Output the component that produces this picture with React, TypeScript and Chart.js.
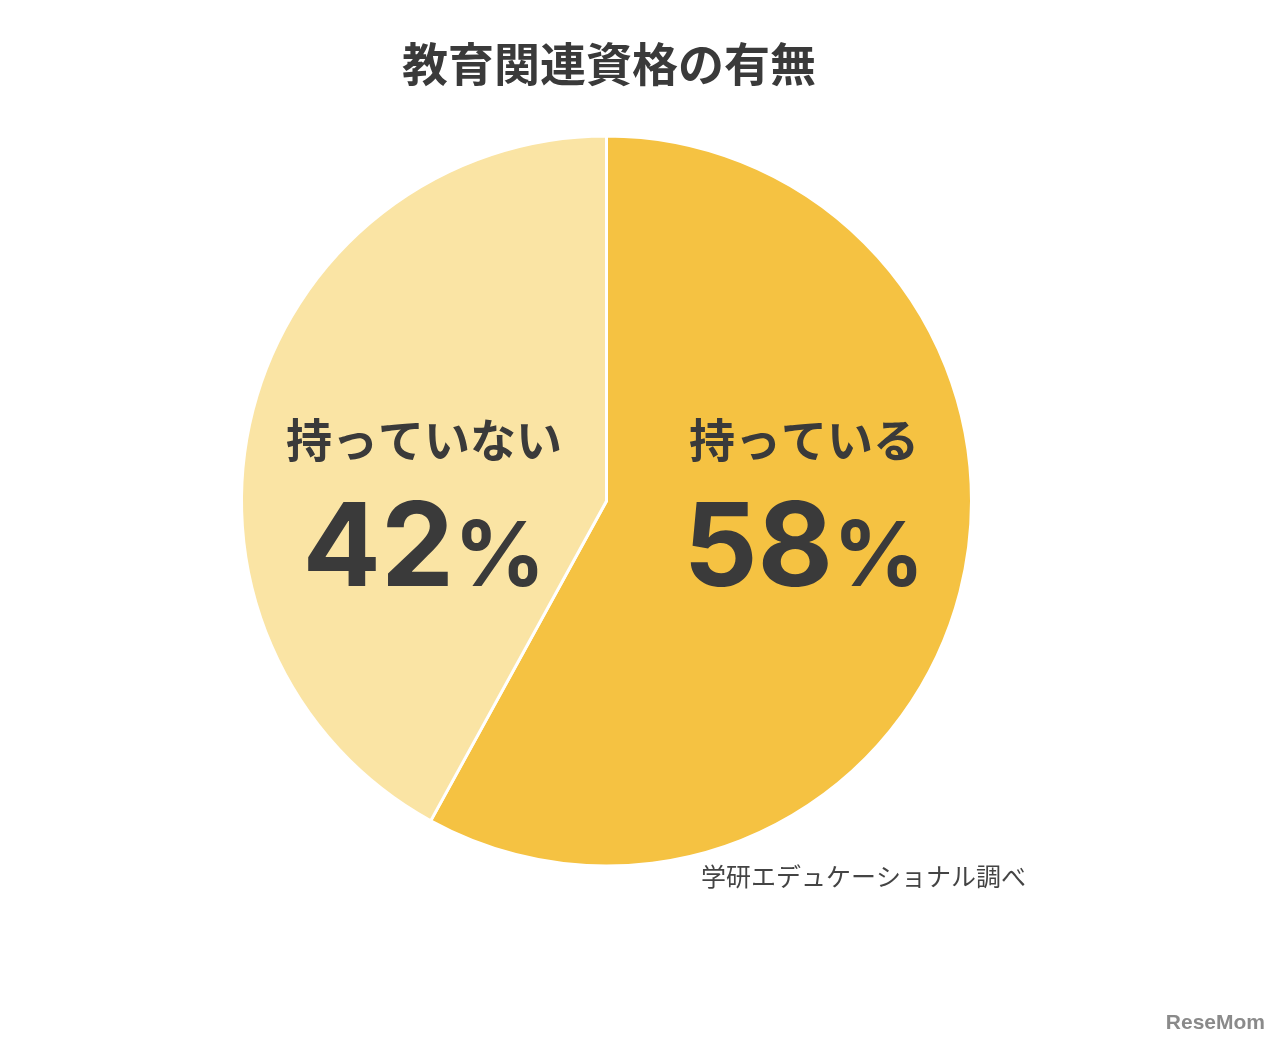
import React, { useEffect, useRef } from "react";
import { Chart, registerables } from "chart.js";

Chart.register(...registerables);

const title = "教育関連資格の有無";
const categories = ["持っている", "持っていない"];
const values = [58, 42];
const colors = ["#F5C242", "#FAE4A4"];
const source = "学研エデュケーショナル調べ";
const watermark = "ReseMom";

const labelPositions = [
  { x: 804, yLabel: 440, yBase: 586 },
  { x: 424, yLabel: 440, yBase: 586 },
];

const NUM_FONT = "bold 116px Inter, 'Liberation Sans', sans-serif";
const PCT_FONT = "bold 90px Inter, 'Liberation Sans', sans-serif";

const textPlugin = {
  id: "textPlugin",
  afterDraw(chart: any) {
    const ctx = chart.ctx as CanvasRenderingContext2D;
    ctx.save();
    ctx.fillStyle = "#3a3a3a";
    ctx.textAlign = "center";
    ctx.textBaseline = "middle";
    ctx.font = "bold 46px 'Noto Sans CJK JP', sans-serif";
    ctx.fillText(title, 609, 64);

    categories.forEach((cat, i) => {
      const p = labelPositions[i];
      ctx.font = "bold 46px 'Noto Sans CJK JP', sans-serif";
      ctx.textAlign = "center";
      ctx.textBaseline = "middle";
      ctx.fillText(cat, p.x, p.yLabel);
      const num = String(values[i]);
      ctx.font = NUM_FONT;
      const wNum = ctx.measureText(num).width;
      ctx.font = PCT_FONT;
      const wPct = ctx.measureText("%").width;
      const gap = 0;
      const total = wNum + gap + wPct;
      const left = p.x - total / 2;
      ctx.textAlign = "left";
      ctx.textBaseline = "alphabetic";
      ctx.font = NUM_FONT;
      ctx.fillText(num, left, p.yBase);
      ctx.font = PCT_FONT;
      ctx.fillText("%", left + wNum + gap, p.yBase);
    });

    ctx.fillStyle = "#444444";
    ctx.textAlign = "left";
    ctx.textBaseline = "middle";
    ctx.font = "25px 'Noto Sans CJK JP', sans-serif";
    ctx.fillText(source, 701, 876);

    ctx.fillStyle = "#8a8a8a";
    ctx.textAlign = "right";
    ctx.font = "bold 21px 'Liberation Sans', sans-serif";
    ctx.fillText(watermark, 1265, 1023);
    ctx.restore();
  },
};

export default function App() {
  const ref = useRef<HTMLCanvasElement>(null);
  useEffect(() => {
    document.body.style.margin = "0";
    const chart = new Chart(ref.current!, {
      type: "pie",
      data: {
        labels: categories,
        datasets: [
          {
            data: values,
            backgroundColor: colors,
            borderColor: "#ffffff",
            borderWidth: 3,
          },
        ],
      },
      options: {
        animation: false,
        responsive: false,
        maintainAspectRatio: false,
        layout: { padding: { top: 134, bottom: 177, left: 240, right: 307 } },
        plugins: {
          legend: { display: false },
          tooltip: { enabled: false },
        },
      },
      plugins: [textPlugin],
    });
    return () => chart.destroy();
  }, []);
  return (
    <div style={{ position: "absolute", left: 0, top: 0, width: 1280, height: 1045, background: "#fff" }}>
      <canvas ref={ref} width={1280} height={1045} style={{ width: 1280, height: 1045 }} />
    </div>
  );
}
